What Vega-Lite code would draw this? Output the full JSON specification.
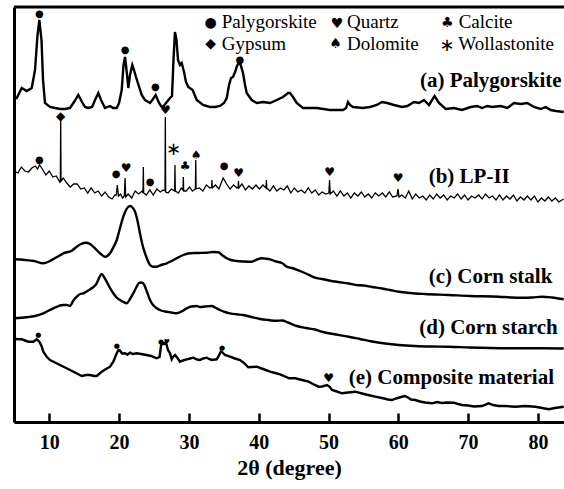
{
"$schema": "https://vega.github.io/schema/vega-lite/v6.json",
"width": 550, "height": 415,
"autosize": {"type": "none"},
"padding": {"left": 14, "top": 7, "right": 0, "bottom": 67},
"background": "white",
"config": {"view": {"stroke": null}, "axis": {"grid": false}},
"datasets": {
"sharp": [
{"s":"a","x":4.95,"v":324},{"s":"a","x":5.33,"v":324},{"s":"a","x":6.05,"v":334},{"s":"a","x":6.76,"v":331},{"s":"a","x":7.48,"v":334},{"s":"a","x":7.95,"v":352},{"s":"a","x":8.31,"v":387},{"s":"a","x":8.57,"v":402},{"s":"a","x":8.88,"v":382},{"s":"a","x":9.1,"v":342},{"s":"a","x":9.38,"v":319},{"s":"a","x":10.1,"v":315},{"s":"a","x":10.82,"v":314},{"s":"a","x":11.53,"v":313},{"s":"a","x":12.25,"v":313},{"s":"a","x":12.97,"v":314},{"s":"a","x":13.54,"v":320},{"s":"a","x":14.15,"v":327},{"s":"a","x":14.68,"v":320},{"s":"a","x":15.11,"v":315},{"s":"a","x":15.59,"v":314},{"s":"a","x":16.12,"v":315},{"s":"a","x":16.55,"v":322},{"s":"a","x":17.02,"v":329},{"s":"a","x":17.41,"v":322},{"s":"a","x":17.98,"v":314},{"s":"a","x":18.7,"v":316},{"s":"a","x":19.13,"v":314},{"s":"a","x":19.66,"v":314},{"s":"a","x":19.99,"v":319},{"s":"a","x":20.37,"v":332},{"s":"a","x":20.63,"v":357},{"s":"a","x":20.85,"v":365},{"s":"a","x":21.06,"v":352},{"s":"a","x":21.32,"v":334},{"s":"a","x":21.56,"v":347},{"s":"a","x":21.89,"v":357},{"s":"a","x":22.13,"v":352},{"s":"a","x":22.42,"v":345},{"s":"a","x":22.78,"v":337},{"s":"a","x":23.24,"v":327},{"s":"a","x":23.71,"v":322},{"s":"a","x":24.43,"v":319},{"s":"a","x":24.86,"v":323},{"s":"a","x":25.24,"v":327},{"s":"a","x":25.65,"v":320},{"s":"a","x":26.0,"v":316},{"s":"a","x":26.29,"v":315},{"s":"a","x":26.72,"v":319},{"s":"a","x":27.29,"v":324},{"s":"a","x":27.58,"v":326},{"s":"a","x":27.79,"v":362},{"s":"a","x":28.0,"v":390},{"s":"a","x":28.22,"v":382},{"s":"a","x":28.44,"v":362},{"s":"a","x":28.72,"v":357},{"s":"a","x":28.97,"v":359},{"s":"a","x":29.3,"v":350},{"s":"a","x":29.58,"v":340},{"s":"a","x":29.91,"v":335},{"s":"a","x":30.54,"v":332},{"s":"a","x":31.12,"v":322},{"s":"a","x":32.02,"v":317},{"s":"a","x":33.02,"v":315},{"s":"a","x":33.74,"v":315},{"s":"a","x":34.46,"v":316},{"s":"a","x":35.03,"v":319},{"s":"a","x":35.42,"v":324},{"s":"a","x":35.75,"v":337},{"s":"a","x":36.03,"v":344},{"s":"a","x":36.32,"v":345},{"s":"a","x":36.61,"v":350},{"s":"a","x":36.89,"v":356},{"s":"a","x":37.22,"v":360},{"s":"a","x":37.46,"v":356},{"s":"a","x":37.75,"v":349},{"s":"a","x":38.04,"v":337},{"s":"a","x":38.28,"v":329},{"s":"a","x":39.0,"v":322},{"s":"a","x":39.71,"v":319},{"s":"a","x":40.62,"v":320},{"s":"a","x":41.62,"v":319},{"s":"a","x":42.58,"v":322},{"s":"a","x":43.48,"v":325},{"s":"a","x":44.2,"v":329},{"s":"a","x":44.48,"v":329},{"s":"a","x":44.91,"v":325},{"s":"a","x":45.44,"v":319},{"s":"a","x":46.35,"v":314},{"s":"a","x":48.31,"v":314},{"s":"a","x":50.21,"v":312},{"s":"a","x":52.08,"v":312},{"s":"a","x":52.51,"v":314},{"s":"a","x":52.79,"v":320},{"s":"a","x":53.08,"v":317},{"s":"a","x":53.51,"v":315},{"s":"a","x":54.94,"v":314},{"s":"a","x":55.95,"v":315},{"s":"a","x":56.91,"v":317},{"s":"a","x":57.66,"v":320},{"s":"a","x":58.42,"v":319},{"s":"a","x":59.38,"v":317},{"s":"a","x":60.53,"v":315},{"s":"a","x":61.29,"v":316},{"s":"a","x":62.25,"v":320},{"s":"a","x":62.97,"v":319},{"s":"a","x":63.68,"v":322},{"s":"a","x":64.4,"v":317},{"s":"a","x":65.19,"v":326},{"s":"a","x":65.83,"v":319},{"s":"a","x":66.79,"v":313},{"s":"a","x":67.98,"v":314},{"s":"a","x":69.13,"v":312},{"s":"a","x":70.37,"v":315},{"s":"a","x":71.28,"v":316},{"s":"a","x":71.99,"v":314},{"s":"a","x":72.75,"v":316},{"s":"a","x":73.43,"v":315},{"s":"a","x":74.67,"v":316},{"s":"a","x":75.62,"v":314},{"s":"a","x":76.58,"v":319},{"s":"a","x":77.54,"v":318},{"s":"a","x":78.48,"v":319},{"s":"a","x":79.44,"v":315},{"s":"a","x":80.4,"v":313},{"s":"a","x":81.12,"v":315},{"s":"a","x":81.83,"v":312},{"s":"a","x":82.59,"v":311},{"s":"a","x":83.7,"v":310},
{"s":"e","x":4.95,"v":83},{"s":"e","x":6.05,"v":82.7},{"s":"e","x":6.99,"v":80.3},{"s":"e","x":7.71,"v":80.3},{"s":"e","x":8.19,"v":82.7},{"s":"e","x":8.57,"v":80.3},{"s":"e","x":8.88,"v":76},{"s":"e","x":9.14,"v":70.3},{"s":"e","x":9.6,"v":65.5},{"s":"e","x":10.1,"v":62},{"s":"e","x":10.67,"v":60},{"s":"e","x":11.53,"v":57},{"s":"e","x":12.25,"v":54.5},{"s":"e","x":12.97,"v":52},{"s":"e","x":13.68,"v":49.5},{"s":"e","x":14.64,"v":46},{"s":"e","x":15.26,"v":47},{"s":"e","x":15.83,"v":47},{"s":"e","x":16.4,"v":46},{"s":"e","x":16.79,"v":46},{"s":"e","x":17.12,"v":48},{"s":"e","x":17.51,"v":50.3},{"s":"e","x":18.12,"v":53},{"s":"e","x":18.7,"v":55.3},{"s":"e","x":19.17,"v":60.3},{"s":"e","x":19.66,"v":68.7},{"s":"e","x":19.91,"v":72},{"s":"e","x":20.13,"v":71.5},{"s":"e","x":20.42,"v":68.5},{"s":"e","x":20.85,"v":68.7},{"s":"e","x":21.2,"v":67.5},{"s":"e","x":21.56,"v":69.3},{"s":"e","x":21.99,"v":68},{"s":"e","x":22.52,"v":68.7},{"s":"e","x":23.14,"v":68},{"s":"e","x":23.95,"v":67},{"s":"e","x":24.57,"v":66},{"s":"e","x":25.39,"v":63.7},{"s":"e","x":25.79,"v":65},{"s":"e","x":26.0,"v":76},{"s":"e","x":26.22,"v":79.5},{"s":"e","x":26.43,"v":78},{"s":"e","x":26.62,"v":79},{"s":"e","x":26.82,"v":77},{"s":"e","x":27.0,"v":72},{"s":"e","x":27.29,"v":68.7},{"s":"e","x":27.54,"v":62.7},{"s":"e","x":27.72,"v":65},{"s":"e","x":28.01,"v":67},{"s":"e","x":28.37,"v":64},{"s":"e","x":28.72,"v":60.3},{"s":"e","x":29.15,"v":61.5},{"s":"e","x":29.68,"v":62.7},{"s":"e","x":30.16,"v":63.5},{"s":"e","x":30.63,"v":64.3},{"s":"e","x":31.16,"v":62.5},{"s":"e","x":31.59,"v":62},{"s":"e","x":32.03,"v":63.5},{"s":"e","x":32.55,"v":64.3},{"s":"e","x":32.88,"v":63},{"s":"e","x":33.27,"v":62},{"s":"e","x":33.98,"v":62.7},{"s":"e","x":34.27,"v":66},{"s":"e","x":34.56,"v":70.3},{"s":"e","x":34.81,"v":69.5},{"s":"e","x":35.17,"v":67},{"s":"e","x":35.89,"v":65.3},{"s":"e","x":36.6,"v":63.5},{"s":"e","x":37.32,"v":62},{"s":"e","x":37.89,"v":59},{"s":"e","x":38.51,"v":54.7},{"s":"e","x":39.04,"v":55},{"s":"e","x":39.71,"v":55.3},{"s":"e","x":40.62,"v":53},{"s":"e","x":41.62,"v":50.3},{"s":"e","x":42.34,"v":49},{"s":"e","x":43.06,"v":47.7},{"s":"e","x":43.77,"v":45.5},{"s":"e","x":44.38,"v":43.7},{"s":"e","x":45.24,"v":43.7},{"s":"e","x":46.2,"v":42},{"s":"e","x":47.16,"v":40.3},{"s":"e","x":47.77,"v":38},{"s":"e","x":48.6,"v":35.3},{"s":"e","x":49.07,"v":35.5},{"s":"e","x":49.79,"v":37},{"s":"e","x":50.21,"v":35},{"s":"e","x":50.5,"v":32},{"s":"e","x":51.21,"v":30.5},{"s":"e","x":51.93,"v":28.7},{"s":"e","x":52.79,"v":29.5},{"s":"e","x":53.84,"v":30.3},{"s":"e","x":54.8,"v":28.5},{"s":"e","x":55.66,"v":27},{"s":"e","x":56.7,"v":25.3},{"s":"e","x":57.66,"v":24},{"s":"e","x":58.52,"v":22.5},{"s":"e","x":59.1,"v":22},{"s":"e","x":59.67,"v":23.5},{"s":"e","x":60.39,"v":25},{"s":"e","x":60.96,"v":26},{"s":"e","x":61.39,"v":24.5},{"s":"e","x":61.82,"v":22.5},{"s":"e","x":62.44,"v":22},{"s":"e","x":63.11,"v":20.5},{"s":"e","x":63.83,"v":19.5},{"s":"e","x":64.83,"v":18.7},{"s":"e","x":65.55,"v":20},{"s":"e","x":66.26,"v":19},{"s":"e","x":66.98,"v":19.5},{"s":"e","x":67.94,"v":19.3},{"s":"e","x":68.56,"v":18},{"s":"e","x":69.13,"v":17},{"s":"e","x":69.99,"v":16.5},{"s":"e","x":70.85,"v":15.5},{"s":"e","x":72.0,"v":16},{"s":"e","x":72.95,"v":18.7},{"s":"e","x":73.57,"v":17},{"s":"e","x":74.38,"v":16},{"s":"e","x":75.29,"v":16},{"s":"e","x":76.76,"v":15.3},{"s":"e","x":78.15,"v":16},{"s":"e","x":79.63,"v":15.3},{"s":"e","x":80.59,"v":14},{"s":"e","x":81.55,"v":12.7},{"s":"e","x":82.45,"v":14},{"s":"e","x":83.7,"v":15.3}
],
"smooth": [
{"s":"c","x":4.95,"v":162.7},{"s":"c","x":6.52,"v":162},{"s":"c","x":7.81,"v":161},{"s":"c","x":9.14,"v":158.7},{"s":"c","x":10.1,"v":161},{"s":"c","x":11.1,"v":165},{"s":"c","x":12.01,"v":168.7},{"s":"c","x":13.21,"v":171.3},{"s":"c","x":13.93,"v":175.3},{"s":"c","x":14.54,"v":178},{"s":"c","x":15.26,"v":179.3},{"s":"c","x":15.83,"v":178},{"s":"c","x":16.3,"v":175.3},{"s":"c","x":17.26,"v":168.7},{"s":"c","x":17.98,"v":165.3},{"s":"c","x":18.7,"v":168.7},{"s":"c","x":19.2,"v":175},{"s":"c","x":19.66,"v":182},{"s":"c","x":20.13,"v":194},{"s":"c","x":20.6,"v":205.3},{"s":"c","x":21.06,"v":213},{"s":"c","x":21.56,"v":216},{"s":"c","x":21.92,"v":214.5},{"s":"c","x":22.28,"v":210.3},{"s":"c","x":22.64,"v":201},{"s":"c","x":22.99,"v":188.7},{"s":"c","x":23.35,"v":177},{"s":"c","x":23.71,"v":168.7},{"s":"c","x":24.07,"v":162},{"s":"c","x":24.43,"v":157},{"s":"c","x":24.86,"v":155.3},{"s":"c","x":25.39,"v":155.3},{"s":"c","x":26.0,"v":157},{"s":"c","x":26.82,"v":158.7},{"s":"c","x":27.51,"v":161},{"s":"c","x":28.25,"v":163.7},{"s":"c","x":29.2,"v":167},{"s":"c","x":30.16,"v":168.7},{"s":"c","x":31.3,"v":169},{"s":"c","x":32.55,"v":169.3},{"s":"c","x":33.45,"v":170},{"s":"c","x":34.21,"v":169.7},{"s":"c","x":34.74,"v":167},{"s":"c","x":35.42,"v":163.7},{"s":"c","x":36.03,"v":162},{"s":"c","x":36.85,"v":161},{"s":"c","x":37.89,"v":160.5},{"s":"c","x":39.0,"v":160.3},{"s":"c","x":39.61,"v":162},{"s":"c","x":40.43,"v":163.7},{"s":"c","x":41.05,"v":163.3},{"s":"c","x":41.62,"v":162.7},{"s":"c","x":42.48,"v":160.5},{"s":"c","x":43.34,"v":159},{"s":"c","x":44.01,"v":155.3},{"s":"c","x":44.77,"v":154},{"s":"c","x":45.92,"v":151},{"s":"c","x":46.92,"v":148},{"s":"c","x":48.07,"v":144.3},{"s":"c","x":49.07,"v":143},{"s":"c","x":50.21,"v":141.3},{"s":"c","x":51.36,"v":140},{"s":"c","x":52.89,"v":138.5},{"s":"c","x":53.94,"v":137},{"s":"c","x":54.99,"v":136.5},{"s":"c","x":56.23,"v":135},{"s":"c","x":57.67,"v":133.5},{"s":"c","x":58.81,"v":132},{"s":"c","x":60.06,"v":130.3},{"s":"c","x":61.68,"v":129},{"s":"c","x":63.83,"v":128},{"s":"c","x":67.22,"v":127},{"s":"c","x":70.27,"v":126},{"s":"c","x":74.38,"v":125.3},{"s":"c","x":76.29,"v":124.5},{"s":"c","x":77.72,"v":124.3},{"s":"c","x":79.15,"v":124.5},{"s":"c","x":80.59,"v":125.3},{"s":"c","x":82.02,"v":124.5},{"s":"c","x":83.7,"v":122.7},
{"s":"d","x":4.95,"v":103.7},{"s":"d","x":6.76,"v":104.7},{"s":"d","x":7.95,"v":106},{"s":"d","x":9.14,"v":108.7},{"s":"d","x":10.57,"v":113.7},{"s":"d","x":12.01,"v":117},{"s":"d","x":12.54,"v":117},{"s":"d","x":12.97,"v":116},{"s":"d","x":13.4,"v":121},{"s":"d","x":13.93,"v":125.3},{"s":"d","x":14.4,"v":128},{"s":"d","x":14.87,"v":128.7},{"s":"d","x":15.47,"v":131},{"s":"d","x":16.07,"v":133.7},{"s":"d","x":16.79,"v":138.7},{"s":"d","x":17.19,"v":145},{"s":"d","x":17.51,"v":148},{"s":"d","x":17.84,"v":145},{"s":"d","x":18.22,"v":140.3},{"s":"d","x":18.7,"v":134},{"s":"d","x":19.17,"v":128.7},{"s":"d","x":19.63,"v":124.5},{"s":"d","x":20.13,"v":122},{"s":"d","x":20.63,"v":120},{"s":"d","x":21.09,"v":118.7},{"s":"d","x":21.56,"v":123},{"s":"d","x":22.03,"v":128.7},{"s":"d","x":22.49,"v":135},{"s":"d","x":22.85,"v":139},{"s":"d","x":23.21,"v":139.5},{"s":"d","x":23.57,"v":137.5},{"s":"d","x":24.0,"v":130},{"s":"d","x":24.43,"v":122},{"s":"d","x":24.86,"v":117},{"s":"d","x":25.39,"v":113.7},{"s":"d","x":26.0,"v":111.5},{"s":"d","x":26.82,"v":110.3},{"s":"d","x":27.51,"v":109.5},{"s":"d","x":28.25,"v":108.7},{"s":"d","x":28.94,"v":110.5},{"s":"d","x":29.68,"v":113.7},{"s":"d","x":30.37,"v":115.5},{"s":"d","x":31.12,"v":116},{"s":"d","x":31.59,"v":115},{"s":"d","x":32.31,"v":115.5},{"s":"d","x":33.27,"v":116},{"s":"d","x":33.88,"v":114},{"s":"d","x":34.46,"v":112},{"s":"d","x":35.17,"v":110},{"s":"d","x":35.89,"v":108.7},{"s":"d","x":36.85,"v":107.7},{"s":"d","x":37.79,"v":107},{"s":"d","x":38.97,"v":105},{"s":"d","x":40.19,"v":103},{"s":"d","x":41.33,"v":102},{"s":"d","x":42.58,"v":101.3},{"s":"d","x":43.34,"v":101.5},{"s":"d","x":44.2,"v":99.5},{"s":"d","x":45.44,"v":96},{"s":"d","x":46.78,"v":94},{"s":"d","x":48.07,"v":92.5},{"s":"d","x":49.21,"v":90},{"s":"d","x":50.64,"v":88},{"s":"d","x":52.89,"v":85.3},{"s":"d","x":54.51,"v":83},{"s":"d","x":56.23,"v":80.5},{"s":"d","x":58.09,"v":78.5},{"s":"d","x":60.06,"v":77},{"s":"d","x":62.39,"v":76},{"s":"d","x":64.83,"v":75.5},{"s":"d","x":67.22,"v":75.3},{"s":"d","x":70.27,"v":74.5},{"s":"d","x":73.14,"v":74},{"s":"d","x":76.72,"v":73.7},{"s":"d","x":80.3,"v":73.7},{"s":"d","x":83.7,"v":73.5}
],
"lpii": [
{"x":4.95,"v":251},{"x":5.5,"v":249},{"x":6.0,"v":255},{"x":6.5,"v":251},{"x":7.0,"v":250},{"x":7.5,"v":254},{"x":8.0,"v":256},{"x":8.3,"v":253},{"x":8.6,"v":257},{"x":9.0,"v":253},{"x":9.5,"v":247},{"x":10.0,"v":251},{"x":10.5,"v":245},{"x":11.0,"v":246},{"x":11.5,"v":240},{"x":11.58,"v":242},{"x":11.63,"v":302},{"x":11.68,"v":241},{"x":12.0,"v":244},{"x":12.5,"v":239},{"x":13.0,"v":235},{"x":13.5,"v":238},{"x":14.0,"v":238},{"x":14.5,"v":233},{"x":15.0,"v":234},{"x":15.5,"v":229},{"x":16.0,"v":234},{"x":16.5,"v":229},{"x":17.0,"v":231},{"x":17.5,"v":226},{"x":18.0,"v":230},{"x":18.5,"v":225},{"x":19.0,"v":223},{"x":19.4,"v":227},{"x":19.6,"v":227},{"x":19.74,"v":237},{"x":19.9,"v":226},{"x":20.2,"v":228},{"x":20.5,"v":224},{"x":20.75,"v":226},{"x":20.85,"v":244},{"x":20.95,"v":225},{"x":21.3,"v":228},{"x":21.8,"v":224},{"x":22.3,"v":231},{"x":22.8,"v":228},{"x":23.3,"v":231},{"x":23.42,"v":229},{"x":23.47,"v":255},{"x":23.52,"v":229},{"x":23.9,"v":227},{"x":24.4,"v":232},{"x":24.9,"v":227},{"x":25.4,"v":233},{"x":25.9,"v":230},{"x":26.3,"v":232},{"x":26.57,"v":231},{"x":26.62,"v":305},{"x":26.67,"v":230},{"x":27.0,"v":229},{"x":27.5,"v":233},{"x":27.95,"v":231},{"x":28.0,"v":257},{"x":28.05,"v":231},{"x":28.5,"v":229},{"x":28.9,"v":234},{"x":29.15,"v":232},{"x":29.2,"v":245},{"x":29.25,"v":231},{"x":29.6,"v":231},{"x":30.1,"v":235},{"x":30.5,"v":231},{"x":30.93,"v":233},{"x":30.98,"v":262},{"x":31.03,"v":233},{"x":31.5,"v":234},{"x":32.0,"v":231},{"x":32.5,"v":237},{"x":33.0,"v":234},{"x":33.25,"v":235},{"x":33.3,"v":242},{"x":33.35,"v":234},{"x":33.8,"v":237},{"x":34.3,"v":233},{"x":34.9,"v":244},{"x":35.4,"v":238},{"x":35.9,"v":233},{"x":36.4,"v":237},{"x":36.9,"v":234},{"x":37.05,"v":235},{"x":37.1,"v":241},{"x":37.15,"v":234},{"x":37.6,"v":238},{"x":38.1,"v":232},{"x":38.6,"v":236},{"x":39.1,"v":233},{"x":39.6,"v":237},{"x":40.1,"v":233},{"x":40.6,"v":237},{"x":41.05,"v":234},{"x":41.1,"v":242},{"x":41.15,"v":234},{"x":41.6,"v":231},{"x":42.1,"v":236},{"x":42.6,"v":231},{"x":43.1,"v":234},{"x":43.6,"v":232},{"x":44.1,"v":236},{"x":44.6,"v":229},{"x":45.1,"v":234},{"x":45.6,"v":230},{"x":46.1,"v":232},{"x":46.6,"v":229},{"x":47.1,"v":234},{"x":47.6,"v":229},{"x":48.1,"v":232},{"x":48.6,"v":227},{"x":49.1,"v":230},{"x":49.6,"v":228},{"x":50.05,"v":229},{"x":50.15,"v":242},{"x":50.25,"v":228},{"x":50.7,"v":231},{"x":51.2,"v":226},{"x":51.7,"v":231},{"x":52.2,"v":226},{"x":52.7,"v":229},{"x":53.2,"v":224},{"x":53.7,"v":229},{"x":54.2,"v":226},{"x":54.7,"v":230},{"x":55.2,"v":225},{"x":55.7,"v":228},{"x":56.2,"v":224},{"x":56.7,"v":229},{"x":57.2,"v":226},{"x":57.7,"v":229},{"x":58.2,"v":225},{"x":58.7,"v":230},{"x":59.2,"v":225},{"x":59.8,"v":226},{"x":59.96,"v":233},{"x":60.1,"v":225},{"x":60.5,"v":227},{"x":61.0,"v":224},{"x":61.5,"v":231},{"x":62.0,"v":223},{"x":62.5,"v":228},{"x":63.0,"v":224},{"x":63.5,"v":226},{"x":64.0,"v":222},{"x":64.5,"v":227},{"x":65.0,"v":223},{"x":65.5,"v":228},{"x":66.0,"v":224},{"x":66.5,"v":227},{"x":67.0,"v":222},{"x":67.5,"v":226},{"x":68.0,"v":224},{"x":68.5,"v":228},{"x":69.0,"v":223},{"x":69.5,"v":227},{"x":70.0,"v":222},{"x":70.5,"v":226},{"x":71.0,"v":224},{"x":71.5,"v":227},{"x":72.0,"v":223},{"x":72.5,"v":228},{"x":73.0,"v":224},{"x":73.5,"v":226},{"x":74.0,"v":222},{"x":74.5,"v":227},{"x":75.0,"v":222},{"x":75.5,"v":226},{"x":76.0,"v":223},{"x":76.5,"v":227},{"x":77.0,"v":221},{"x":77.5,"v":225},{"x":78.0,"v":222},{"x":78.5,"v":226},{"x":79.0,"v":222},{"x":79.5,"v":226},{"x":80.0,"v":220},{"x":80.5,"v":224},{"x":81.0,"v":221},{"x":81.5,"v":225},{"x":82.0,"v":221},{"x":82.5,"v":224},{"x":83.0,"v":220},{"x":83.7,"v":223}
],
"dots": [
{"x":8.57,"v":408,"m":"●"},{"x":20.85,"v":372,"m":"●"},{"x":25.2,"v":335,"m":"●"},{"x":37.3,"v":362,"m":"●"},
{"x":8.57,"v":262,"m":"●"},{"x":19.56,"v":248,"m":"●"},{"x":24.43,"v":240,"m":"●"},{"x":35.03,"v":256,"m":"●"}
],
"bigmarks": [
{"x":11.63,"v":306,"m":"◆"},{"x":26.62,"v":312,"m":"♥"},
{"x":20.99,"v":254,"m":"♥"},{"x":29.45,"v":256,"m":"♣"},{"x":31.02,"v":267,"m":"♠"},{"x":37.13,"v":249,"m":"♥"},{"x":50.15,"v":250,"m":"♥"},{"x":59.96,"v":244,"m":"♥"},
{"x":50.03,"v":44,"m":"♥"}
],
"stars": [
{"x":27.8,"v":272,"m":"∗"},{"x":67.0,"v":376,"m":"∗"}
],
"smallmarks": [
{"x":8.42,"v":87,"m":"●"},{"x":19.66,"v":76,"m":"●"},{"x":26.0,"v":80,"m":"●"},{"x":26.85,"v":80,"m":"♥"},{"x":34.74,"v":74.5,"m":"●"}
],
"labels": [
{"x":63.1,"v":341.3,"t":"(a) Palygorskite"},{"x":64.35,"v":245.3,"t":"(b) LP-II"},{"x":64.35,"v":145.3,"t":"(c) Corn stalk"},{"x":63.0,"v":93.7,"t":"(d) Corn starch"},{"x":52.9,"v":43.7,"t":"(e) Composite material"}
],
"legendtext": [
{"x":34.7,"v":400,"t":"Palygorskite"},{"x":52.65,"v":400,"t":"Quartz"},{"x":68.65,"v":400,"t":"Calcite"},
{"x":34.7,"v":378,"t":"Gypsum"},{"x":52.65,"v":378,"t":"Dolomite"},{"x":68.6,"v":378,"t":"Wollastonite"}
],
"legendsym": [
{"x":33.12,"v":399,"m":"●"},{"x":51.22,"v":398,"m":"♥"},{"x":67.0,"v":399,"m":"♣"},
{"x":33.12,"v":378,"m":"◆"},{"x":51.0,"v":378,"m":"♠"}
]
},
"layer": [
{"data": {"name": "sharp"},
 "mark": {"type": "line", "color": "black", "strokeWidth": 2.4, "interpolate": "linear", "clip": true},
 "encoding": {
  "x": {"field": "x", "type": "quantitative", "scale": {"domain": [4.94, 83.74], "nice": false, "zero": false},
        "axis": {"orient": "bottom", "values": [10,20,30,40,50,60,70,80], "title": "2θ (degree)", "grid": false,
                 "domainColor": "black", "domainWidth": 3, "tickColor": "black", "tickWidth": 2.5, "tickSize": -9,
                 "labelFont": "Liberation Serif", "labelFontWeight": "bold", "labelFontSize": 20, "labelColor": "black", "labelPadding": 19,
                 "titleFont": "Liberation Serif", "titleFontWeight": "bold", "titleFontSize": 22, "titleColor": "black", "titleBaseline": "middle", "titleY": 45}},
  "y": {"field": "v", "type": "quantitative", "scale": {"domain": [0, 415], "nice": false, "zero": false},
        "axis": {"orient": "left", "title": null, "labels": false, "ticks": false, "grid": false, "domainColor": "black", "domainWidth": 3}},
  "detail": {"field": "s"}
 }},
{"data": {"name": "smooth"},
 "mark": {"type": "line", "color": "black", "strokeWidth": 2.4, "interpolate": "monotone", "clip": true},
 "encoding": {"x": {"field": "x", "type": "quantitative"}, "y": {"field": "v", "type": "quantitative"}, "detail": {"field": "s"}}},
{"data": {"name": "lpii"},
 "mark": {"type": "line", "color": "black", "strokeWidth": 1.3, "interpolate": "linear", "clip": true},
 "encoding": {"x": {"field": "x", "type": "quantitative"}, "y": {"field": "v", "type": "quantitative"}}},
{"data": {"values": [{"k": 1}]},
 "mark": {"type": "rule", "color": "black", "strokeWidth": 3},
 "encoding": {"y": {"datum": 415}}},
{"data": {"name": "dots"},
 "mark": {"type": "text", "font": "DejaVu Sans", "fontSize": 10, "color": "black", "baseline": "middle", "align": "center"},
 "encoding": {"x": {"field": "x", "type": "quantitative"}, "y": {"field": "v", "type": "quantitative"}, "text": {"field": "m"}}},
{"data": {"name": "bigmarks"},
 "mark": {"type": "text", "font": "DejaVu Sans", "fontSize": 12, "color": "black", "baseline": "middle", "align": "center"},
 "encoding": {"x": {"field": "x", "type": "quantitative"}, "y": {"field": "v", "type": "quantitative"}, "text": {"field": "m"}}},
{"data": {"name": "stars"},
 "mark": {"type": "text", "font": "DejaVu Sans", "fontSize": 18, "color": "black", "baseline": "middle", "align": "center"},
 "encoding": {"x": {"field": "x", "type": "quantitative"}, "y": {"field": "v", "type": "quantitative"}, "text": {"field": "m"}}},
{"data": {"name": "smallmarks"},
 "mark": {"type": "text", "font": "DejaVu Sans", "fontSize": 7, "color": "black", "baseline": "middle", "align": "center"},
 "encoding": {"x": {"field": "x", "type": "quantitative"}, "y": {"field": "v", "type": "quantitative"}, "text": {"field": "m"}}},
{"data": {"name": "labels"},
 "mark": {"type": "text", "font": "Liberation Serif", "fontWeight": "bold", "fontSize": 21, "color": "black", "baseline": "middle", "align": "left"},
 "encoding": {"x": {"field": "x", "type": "quantitative"}, "y": {"field": "v", "type": "quantitative"}, "text": {"field": "t"}}},
{"data": {"name": "legendtext"},
 "mark": {"type": "text", "font": "Liberation Serif", "fontSize": 19, "color": "black", "baseline": "middle", "align": "left"},
 "encoding": {"x": {"field": "x", "type": "quantitative"}, "y": {"field": "v", "type": "quantitative"}, "text": {"field": "t"}}},
{"data": {"name": "legendsym"},
 "mark": {"type": "text", "font": "DejaVu Sans", "fontSize": 14, "color": "black", "baseline": "middle", "align": "center"},
 "encoding": {"x": {"field": "x", "type": "quantitative"}, "y": {"field": "v", "type": "quantitative"}, "text": {"field": "m"}}}
]
}
